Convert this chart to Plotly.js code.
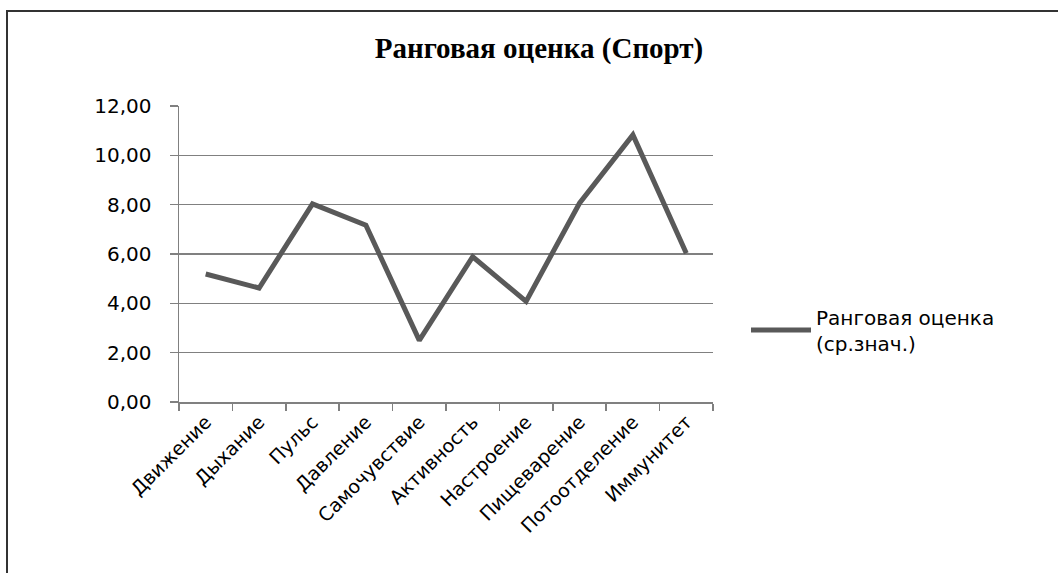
<!DOCTYPE html>
<html>
<head>
<meta charset="utf-8">
<script src="https://cdn.plot.ly/plotly-3.0.1.min.js"></script>
<style>
  html, body { margin: 0; padding: 0; background: #fff; overflow: hidden; width: 1058px; height: 573px; }
  #chart { width: 1058px; height: 573px; }
  #frame { position: absolute; left: 6px; top: 10px; width: 1100px; height: 600px;
           border-left: 2px solid #333; border-top: 2px solid #333; pointer-events: none; }
</style>
</head>
<body>
<div id="chart"></div>
<div id="frame"></div>
<script>
const categories = ["Движение", "Дыхание", "Пульс", "Давление", "Самочувствие",
                    "Активность", "Настроение", "Пищеварение", "Потоотделение", "Иммунитет"];
const values = [5.19, 4.62, 8.03, 7.17, 2.5, 5.89, 4.08, 8.06, 10.83, 6.03];
const seriesName = "Ранговая оценка<br>(ср.знач.)";
const chartTitle = "Ранговая оценка (Спорт)";
const yTicks = [0, 2, 4, 6, 8, 10, 12];

const trace = {
  x: categories,
  y: values,
  type: "scatter",
  mode: "lines",
  name: seriesName,
  line: { color: "#595959", width: 5 },
  showlegend: true
};

const layout = {
  width: 1058,
  height: 573,
  paper_bgcolor: "#ffffff",
  plot_bgcolor: "#ffffff",
  separators: ", ",
  margin: { l: 179, r: 345, t: 106, b: 171 },
  title: {
    text: "<b>" + chartTitle + "</b>",
    font: { family: "Liberation Serif, Times New Roman, serif", size: 29, color: "#000" },
    x: 539 / 1058, xanchor: "center",
    y: 1 - 48 / 573, yanchor: "middle", yref: "container"
  },
  font: { family: "DejaVu Sans, sans-serif", size: 19, color: "#000" },
  xaxis: {
    type: "category",
    tickangle: -45,
    tickson: "boundaries",
    ticks: "outside",
    ticklen: 7,
    tickcolor: "#808080",
    tickwidth: 1.5,
    showline: true,
    linecolor: "#808080",
    linewidth: 1.5,
    showgrid: false,
    zeroline: false,
    tickfont: { family: "DejaVu Sans, sans-serif", size: 19, color: "#000" },
    range: [-0.5, 9.5]
  },
  yaxis: {
    range: [0, 12],
    tickvals: yTicks,
    tickformat: ".2f",
    ticks: "outside",
    ticklen: 8,
    tickcolor: "#808080",
    tickwidth: 1.5,
    showline: true,
    linecolor: "#808080",
    linewidth: 1.5,
    showgrid: true,
    gridcolor: "#808080",
    gridwidth: 1.5,
    zeroline: false,
    ticklabelstandoff: 14,
    tickfont: { family: "DejaVu Sans, sans-serif", size: 20, color: "#000" }
  },
  legend: {
    x: 1 + 33 / 534,
    xref: "paper",
    y: (402 - 330) / 296,
    yanchor: "middle",
    xanchor: "left",
    bgcolor: "rgba(0,0,0,0)",
    itemwidth: 60,
    font: { family: "DejaVu Sans, sans-serif", size: 20, color: "#000" }
  }
};

Plotly.newPlot("chart", [trace], layout, { displayModeBar: false, staticPlot: true });
</script>
</body>
</html>
